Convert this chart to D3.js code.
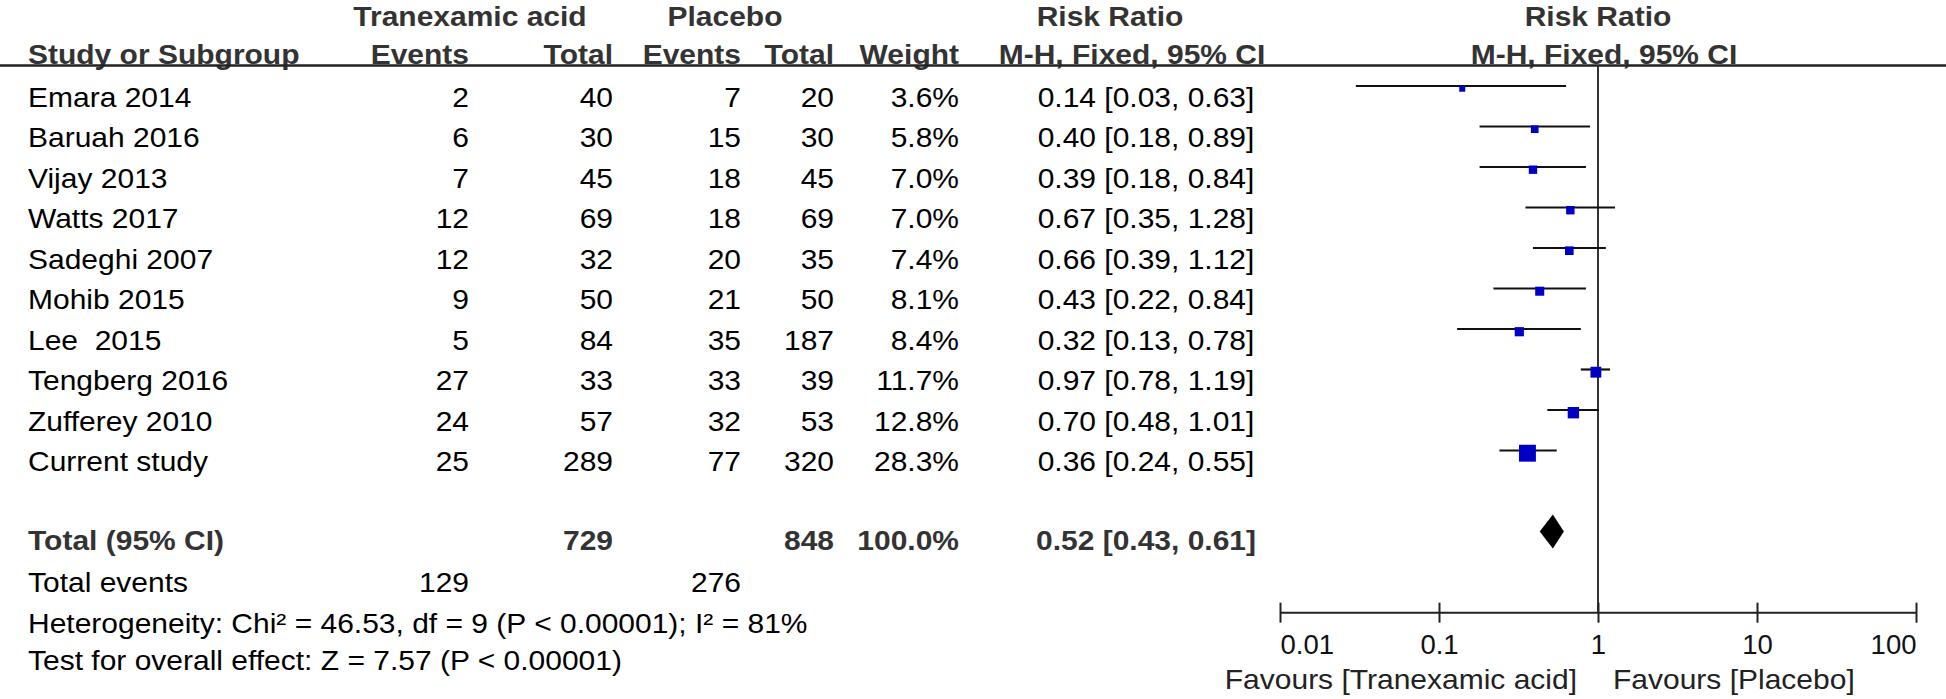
<!DOCTYPE html>
<html>
<head>
<meta charset="utf-8">
<script src="https://cdn.jsdelivr.net/npm/d3@7"></script>
<style>
  html, body { margin: 0; padding: 0; background: #fff; }
  svg { display: block; }
  text { font-family: "Liberation Sans", Arial, sans-serif; white-space: pre; }
</style>
</head>
<body>
<svg id="chart" width="1946" height="699"></svg>
<script>
// ---------------- data ----------------
const studies   = ["Emara 2014", "Baruah 2016", "Vijay 2013", "Watts 2017", "Sadeghi 2007",
                   "Mohib 2015", "Lee  2015", "Tengberg 2016", "Zufferey 2010", "Current study"];
const txEvents  = [2, 6, 7, 12, 12, 9, 5, 27, 24, 25];
const txTotal   = [40, 30, 45, 69, 32, 50, 84, 33, 57, 289];
const plEvents  = [7, 15, 18, 18, 20, 21, 35, 33, 32, 77];
const plTotal   = [20, 30, 45, 69, 35, 50, 187, 39, 53, 320];
const weights   = [3.6, 5.8, 7.0, 7.0, 7.4, 8.1, 8.4, 11.7, 12.8, 28.3];
const rr        = [0.14, 0.40, 0.39, 0.67, 0.66, 0.43, 0.32, 0.97, 0.70, 0.36];
const rrLow     = [0.03, 0.18, 0.18, 0.35, 0.39, 0.22, 0.13, 0.78, 0.48, 0.24];
const rrHigh    = [0.63, 0.89, 0.84, 1.28, 1.12, 0.84, 0.78, 1.19, 1.01, 0.55];

const totalTx = 729, totalPl = 848, totalWeight = 100.0;
const totalRR = 0.52, totalLow = 0.43, totalHigh = 0.61;
const eventsTx = 129, eventsPl = 276;
const heterogeneityText = "Heterogeneity: Chi\u00B2 = 46.53, df = 9 (P < 0.00001); I\u00B2 = 81%";
const overallText = "Test for overall effect: Z = 7.57 (P < 0.00001)";

const tickValues = [0.01, 0.1, 1, 10, 100];
const tickLabels = ["0.01", "0.1", "1", "10", "100"];
const favoursLeft = "Favours [Tranexamic acid]";
const favoursRight = "Favours [Placebo]";

// ---------------- layout ----------------
const svg = d3.select("#chart");
const SY = 0.93;          // vertical scale of table text
const FS = 30;            // table font size

const x = d3.scaleLog().domain([0.01, 100]).range([1280, 1916]);
const y = d3.scaleLinear().domain([0, studies.length - 1]).range([86, 450.5]);
const side = d3.scaleSqrt().domain([0, 28.3]).range([0, 16.9]);

const f2 = d3.format(".2f");
const f1 = d3.format(".1f");
const ciText = (m, l, h) => `${f2(m)} [${f2(l)}, ${f2(h)}]`;

function txt(xp, yp, s, o = {}) {
  return svg.append("text")
    .attr("transform", `translate(${xp},${yp}) scale(1,${o.sy ?? SY})`)
    .attr("text-anchor", o.anchor || "start")
    .attr("font-size", o.size || FS)
    .attr("font-weight", o.bold ? "bold" : "normal")
    .attr("fill", o.fill || (o.bold ? "#333" : "#000"))
    .text(s);
}

// column right edges
const colTxE = 469, colTxT = 613, colPlE = 741, colPlT = 834, colW = 959, colCI = 1146;
const leftX = 28;

// headers
const h1 = 25.5, h2 = 63.5;
txt(470, h1, "Tranexamic acid", {bold: true, anchor: "middle"});
txt(725, h1, "Placebo", {bold: true, anchor: "middle"});
txt(1110, h1, "Risk Ratio", {bold: true, anchor: "middle"});
txt(1598, h1, "Risk Ratio", {bold: true, anchor: "middle"});

txt(leftX, h2, "Study or Subgroup", {bold: true});
txt(colTxE, h2, "Events", {bold: true, anchor: "end"});
txt(colTxT, h2, "Total", {bold: true, anchor: "end"});
txt(colPlE, h2, "Events", {bold: true, anchor: "end"});
txt(colPlT, h2, "Total", {bold: true, anchor: "end"});
txt(colW, h2, "Weight", {bold: true, anchor: "end"});
txt(1132, h2, "M-H, Fixed, 95% CI", {bold: true, anchor: "middle"});
txt(1604, h2, "M-H, Fixed, 95% CI", {bold: true, anchor: "middle"});

// header underline
svg.append("line").attr("x1", 0).attr("x2", 1946).attr("y1", 65.5).attr("y2", 65.5)
  .attr("stroke", "#222").attr("stroke-width", 2.5);

// vertical line of no effect
const axisY = 612.7;
svg.append("line").attr("x1", x(1)).attr("x2", x(1)).attr("y1", 65.5).attr("y2", axisY)
  .attr("stroke", "#333").attr("stroke-width", 2);

// study rows
const baseOff = 20.5;
studies.forEach((s, i) => {
  const yb = y(i) + baseOff;
  txt(leftX, yb, s);
  txt(colTxE, yb, String(txEvents[i]), {anchor: "end"});
  txt(colTxT, yb, String(txTotal[i]), {anchor: "end"});
  txt(colPlE, yb, String(plEvents[i]), {anchor: "end"});
  txt(colPlT, yb, String(plTotal[i]), {anchor: "end"});
  txt(colW, yb, f1(weights[i]) + "%", {anchor: "end"});
  txt(colCI, yb, ciText(rr[i], rrLow[i], rrHigh[i]), {anchor: "middle"});
});

// CI lines
svg.append("g").selectAll("line").data(studies).join("line")
  .attr("x1", (d, i) => x(rrLow[i]))
  .attr("x2", (d, i) => x(rrHigh[i]))
  .attr("y1", (d, i) => y(i))
  .attr("y2", (d, i) => y(i))
  .attr("stroke", "#111").attr("stroke-width", 2.2);

// squares
svg.append("g").selectAll("rect").data(studies).join("rect")
  .attr("x", (d, i) => x(rr[i]) - side(weights[i]) / 2)
  .attr("y", (d, i) => y(i) + 2.7 - side(weights[i]) / 2)
  .attr("width", (d, i) => side(weights[i]))
  .attr("height", (d, i) => side(weights[i]))
  .attr("fill", "#0000c4");

// total row
const totY = 531.5;
const totBase = totY + 18.5;
txt(leftX, totBase, "Total (95% CI)", {bold: true});
txt(colTxT, totBase, String(totalTx), {bold: true, anchor: "end"});
txt(colPlT, totBase, String(totalPl), {bold: true, anchor: "end"});
txt(colW, totBase, f1(totalWeight) + "%", {bold: true, anchor: "end"});
txt(colCI, totBase, ciText(totalRR, totalLow, totalHigh), {bold: true, anchor: "middle"});

svg.append("path")
  .attr("d", `M${x(totalLow)},${totY} L${x(totalRR)},${totY - 17} L${x(totalHigh)},${totY} L${x(totalRR)},${totY + 17} Z`)
  .attr("fill", "#000");

// footer rows
txt(leftX, 591.7, "Total events");
txt(colTxE, 591.7, String(eventsTx), {anchor: "end"});
txt(colPlE, 591.7, String(eventsPl), {anchor: "end"});
txt(leftX, 632.5, heterogeneityText);
txt(leftX, 670, overallText);

// axis
const axis = d3.axisBottom(x).tickValues(tickValues)
  .tickFormat((d, i) => tickLabels[i]).tickSize(20).tickSizeOuter(0).tickPadding(12);
const ag = svg.append("g").attr("transform", `translate(0,${axisY - 10})`).call(axis);
ag.select(".domain").remove();
ag.selectAll(".tick line").attr("stroke", "#222").attr("stroke-width", 2);
ag.selectAll(".tick text")
  .attr("font-family", "Liberation Sans, Arial, sans-serif")
  .attr("font-size", 27.5)
  .attr("fill", "#111")
  .attr("text-anchor", (d, i) => i === 0 ? "start" : (i === tickValues.length - 1 ? "end" : "middle"));
svg.append("line").attr("x1", x(0.01)).attr("x2", x(100)).attr("y1", axisY).attr("y2", axisY)
  .attr("stroke", "#222").attr("stroke-width", 2);

// favours labels
txt(1577, 689, favoursLeft, {anchor: "end", size: 30, sy: 0.95, fill: "#222"});
txt(1613, 689, favoursRight, {anchor: "start", size: 30, sy: 0.95, fill: "#222"});
</script>
</body>
</html>
